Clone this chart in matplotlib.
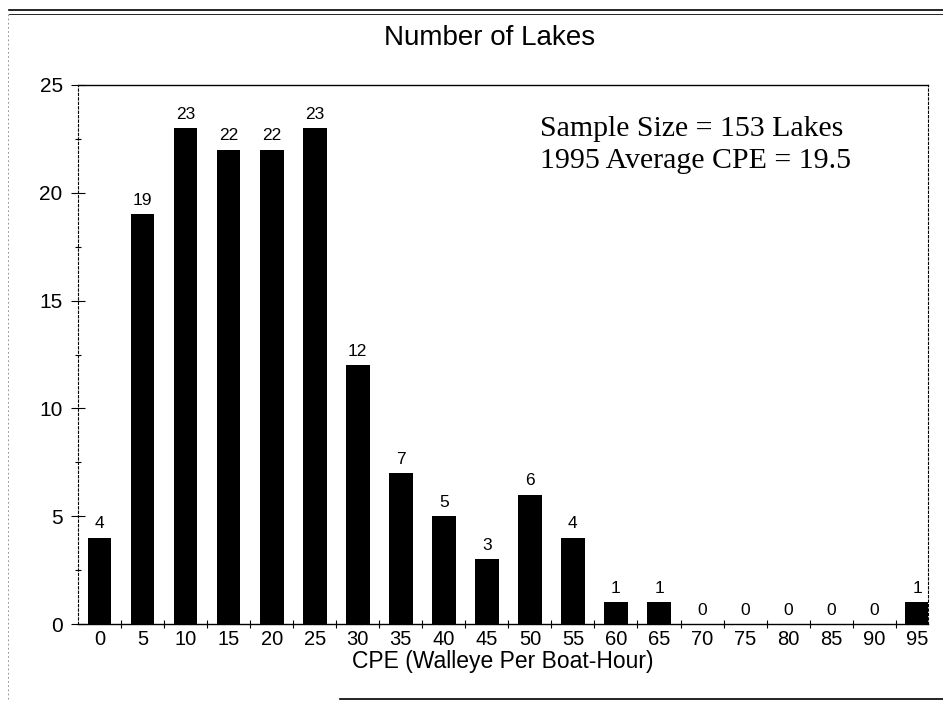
import matplotlib.pyplot as plt
from matplotlib.lines import Line2D
from matplotlib.ticker import MultipleLocator

plt.rcParams['font.family'] = ['Liberation Sans', 'DejaVu Sans']

# CPE classes and number of lakes in each
cpe = [0, 5, 10, 15, 20, 25, 30, 35, 40, 45, 50, 55, 60, 65, 70, 75, 80, 85, 90, 95]
lakes = [4, 19, 23, 22, 22, 23, 12, 7, 5, 3, 6, 4, 1, 1, 0, 0, 0, 0, 0, 1]
note_lines = ["Sample Size = 153 Lakes", "1995 Average CPE = 19.5"]

fig = plt.figure(figsize=(9.43, 7.15), dpi=100)
ax = fig.add_axes([78 / 943, 1 - 624 / 715, 850 / 943, 539 / 715])

x = list(range(len(cpe)))
ax.bar(x, lakes, width=0.55, color='black')
for xi, v in zip(x, lakes):
    ax.text(xi, v + 0.3, str(v), ha='center', va='bottom', fontsize=12.5)

ax.set_xlim(-0.5, 19.25)
ax.set_ylim(0, 25)
ax.set_xticks(x)
ax.set_xticklabels([str(c) for c in cpe], fontsize=14.5)
ax.set_xticks([i + 0.5 for i in x[:-1]], minor=True)
ax.yaxis.set_major_locator(MultipleLocator(5))
ax.yaxis.set_minor_locator(MultipleLocator(2.5))
ax.tick_params(axis='x', which='major', length=0, pad=4)
ax.tick_params(axis='x', which='minor', direction='inout', length=6, width=0.8)
ax.tick_params(axis='y', which='major', direction='inout', length=10, width=0.8,
               labelsize=15, pad=6)
ax.tick_params(axis='y', which='minor', direction='inout', length=5, width=0.8)
for s in ['left', 'right']:
    ax.spines[s].set_linestyle((0, (2, 2)))
    ax.spines[s].set_linewidth(0.8)
ax.spines['top'].set_linewidth(1.0)
ax.spines['bottom'].set_linewidth(1.0)

ax.set_xlabel("CPE (Walleye Per Boat-Hour)", fontsize=16.5, labelpad=1)
fig.text(490 / 943, 1 - 38 / 715, "Number of Lakes", ha='center', va='center', fontsize=20)

ax.text(0.544, 0.942, "\n".join(note_lines), transform=ax.transAxes, ha='left', va='top',
        fontsize=21.5, family='Liberation Serif', linespacing=1.3)

# scanned page border lines
fig.add_artist(Line2D([0.01, 1.0], [1 - 10 / 715, 1 - 10 / 715], color='black', lw=1.2))
fig.add_artist(Line2D([0.01, 1.0], [1 - 14 / 715, 1 - 14 / 715], color='black', lw=0.6))
fig.add_artist(Line2D([340 / 943, 1.0], [1 - 699 / 715, 1 - 699 / 715], color='black', lw=1.2))
fig.add_artist(Line2D([8 / 943, 8 / 943], [1 - 14 / 715, 0.02], color='gray', lw=0.6,
                      linestyle=(0, (2, 3))))

fig.savefig('out.png', dpi=100)
